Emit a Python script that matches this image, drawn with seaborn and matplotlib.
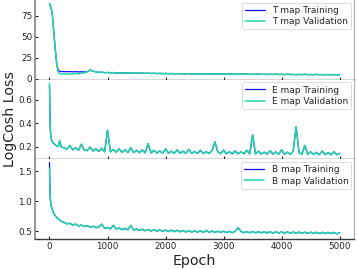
import pandas as pd
import matplotlib
matplotlib.use('Agg')
import matplotlib.pyplot as plt
import seaborn as sns

# epochs: dense at the start, then every 50
epochs_early = [0, 10, 20, 30, 40, 50, 75, 100, 125, 150, 175, 200]
epochs_rest = list(range(250, 5001, 50))
epochs = epochs_early + epochs_rest

t_val = [90, 88, 86, 84, 81, 76, 56, 35, 17, 8.5, 6.3, 5.8,
         5.9, 5.6, 6.1, 5.8, 6.3, 6.0, 6.6, 7.1, 8.4, 10.6,
         9.2, 8.3, 7.7, 7.9, 7.4, 7.6, 7.2, 7.5, 7.0, 7.3,
         6.9, 7.2, 6.8, 7.1, 6.7, 6.9, 6.6, 7.0, 6.5, 6.8,
         6.4, 6.7, 6.3, 6.6, 6.2, 6.5, 6.1, 6.4, 6.0, 6.3,
         6.0, 6.2, 5.9, 6.3, 5.8, 6.1, 5.8, 6.2, 5.7, 6.0,
         5.7, 5.9, 5.6, 6.0, 5.6, 5.8, 5.5, 5.9, 5.5, 5.7,
         5.4, 5.8, 5.5, 5.7, 5.3, 5.6, 5.4, 5.7, 5.3, 5.5,
         5.2, 5.5, 5.3, 5.6, 5.2, 5.4, 5.1, 5.5, 5.2, 5.3,
         5.0, 5.3, 5.1, 5.4, 5.0, 5.2, 4.9, 5.3, 5.0, 5.1,
         4.9, 5.2, 4.9, 5.1, 4.8, 5.0]
# training is only visible where it leaves the validation curve
t_train_head = [89, 87.5, 85.5, 83.5, 80.5, 75.5, 55, 34.5, 17.5, 10.5, 9.0, 8.7,
                8.6, 8.5, 8.7, 8.4, 8.6, 8.3, 8.5, 8.2, 8.6]

e_val = [0.74, 0.40, 0.30, 0.27, 0.25, 0.24, 0.225, 0.215, 0.205, 0.20, 0.25, 0.195,
         0.19, 0.178, 0.21, 0.172, 0.19, 0.168, 0.22, 0.17, 0.165, 0.195,
         0.162, 0.18, 0.158, 0.185, 0.155, 0.34, 0.155, 0.175, 0.152, 0.18,
         0.15, 0.172, 0.149, 0.19, 0.148, 0.168, 0.147, 0.17, 0.146, 0.225,
         0.145, 0.168, 0.145, 0.162, 0.144, 0.18, 0.143, 0.16, 0.143, 0.172,
         0.142, 0.16, 0.142, 0.175, 0.141, 0.158, 0.141, 0.168, 0.14, 0.156,
         0.14, 0.165, 0.24, 0.155, 0.139, 0.17, 0.139, 0.155, 0.138, 0.162,
         0.138, 0.155, 0.137, 0.168, 0.137, 0.30, 0.136, 0.16, 0.136, 0.152,
         0.135, 0.165, 0.135, 0.154, 0.134, 0.172, 0.134, 0.152, 0.133, 0.16,
         0.37, 0.15, 0.133, 0.21, 0.132, 0.156, 0.132, 0.15, 0.131, 0.162,
         0.131, 0.148, 0.13, 0.156, 0.13, 0.142]
e_train_head = [0.72]

b_val = [1.55, 1.12, 0.99, 0.93, 0.89, 0.86, 0.80, 0.76, 0.73, 0.71, 0.69, 0.67,
         0.65, 0.625, 0.635, 0.605, 0.62, 0.59, 0.605, 0.58, 0.595, 0.57,
         0.585, 0.56, 0.575, 0.62, 0.55, 0.565, 0.54, 0.60, 0.54, 0.555,
         0.53, 0.55, 0.525, 0.60, 0.52, 0.54, 0.515, 0.535, 0.51, 0.53,
         0.505, 0.528, 0.502, 0.525, 0.5, 0.522, 0.497, 0.52, 0.495, 0.518,
         0.493, 0.515, 0.49, 0.512, 0.488, 0.51, 0.487, 0.508, 0.485, 0.515,
         0.484, 0.505, 0.482, 0.503, 0.481, 0.502, 0.48, 0.5, 0.479, 0.499,
         0.56, 0.498, 0.477, 0.497, 0.476, 0.496, 0.475, 0.495, 0.474, 0.494,
         0.473, 0.493, 0.472, 0.492, 0.471, 0.491, 0.47, 0.49, 0.469, 0.489,
         0.468, 0.488, 0.467, 0.487, 0.466, 0.486, 0.465, 0.485, 0.464, 0.484,
         0.463, 0.483, 0.462, 0.482, 0.461, 0.475]
b_train_head = [1.65]

t_train = t_train_head + t_val[len(t_train_head):]
e_train = e_train_head + e_val[len(e_train_head):]
b_train = b_train_head + b_val[len(b_train_head):]

maps = ['T', 'E', 'B']
train_series = [t_train, e_train, b_train]
val_series = [t_val, e_val, b_val]
yticks = [[0, 25, 50, 75], [0.2, 0.4, 0.6], [0.5, 1.0, 1.5]]
ylims = [(-1, 94), (0.09, 0.77), (0.37, 1.70)]

TRAIN_COLOR = '#1010f0'
VAL_COLOR = '#22d6a8'

sns.set_style('ticks')
plt.rcParams['font.family'] = ['DejaVu Sans']

fig, axes = plt.subplots(3, 1, figsize=(3.57, 2.69), dpi=100, sharex=True)
fig.subplots_adjust(left=0.098, right=0.992, top=1.0, bottom=0.111, hspace=0)

for ax, name, tr, va, yt, yl in zip(axes, maps, train_series, val_series, yticks, ylims):
    df = pd.DataFrame({'epoch': epochs, 'train': tr, 'val': va})
    sns.lineplot(data=df, x='epoch', y='train', ax=ax, color=TRAIN_COLOR,
                 lw=0.9, label=f'{name} map Training')
    sns.lineplot(data=df, x='epoch', y='val', ax=ax, color=VAL_COLOR,
                 lw=1.1, label=f'{name} map Validation')
    ax.set_ylim(*yl)
    ax.set_yticks(yt)
    ax.set_ylabel('')
    ax.set_xlabel('')
    ax.tick_params(axis='both', direction='in', length=2.5, width=0.8,
                   labelsize=6.3, pad=2, colors='#222222')
    ax.spines['left'].set_color('#8c8c8c')
    ax.spines['left'].set_linewidth(1.3)
    ax.spines['bottom'].set_color('#3a3a3a')
    ax.spines['bottom'].set_linewidth(1.0)
    ax.spines['right'].set_color('#b0b0b0')
    ax.spines['right'].set_linewidth(0.8)
    ax.spines['top'].set_visible(False)
    leg = ax.legend(loc='upper right', fontsize=6.5, frameon=True,
                    borderaxespad=0.3, handlelength=2.2, labelspacing=0.25,
                    borderpad=0.35)
    leg.get_frame().set_linewidth(0.6)
    leg.get_frame().set_edgecolor('#cccccc')

axes[0].set_yticklabels(['0', '25', '50', '75'])
axes[2].set_xticks([0, 1000, 2000, 3000, 4000, 5000])
axes[2].set_xlim(-250, 5250)
axes[2].set_xlabel('Epoch', fontsize=10.3, labelpad=2)
fig.text(0.028, 0.556, 'LogCosh Loss', rotation=90, fontsize=10.3,
         ha='center', va='center')

fig.savefig('out.png', dpi=100)
